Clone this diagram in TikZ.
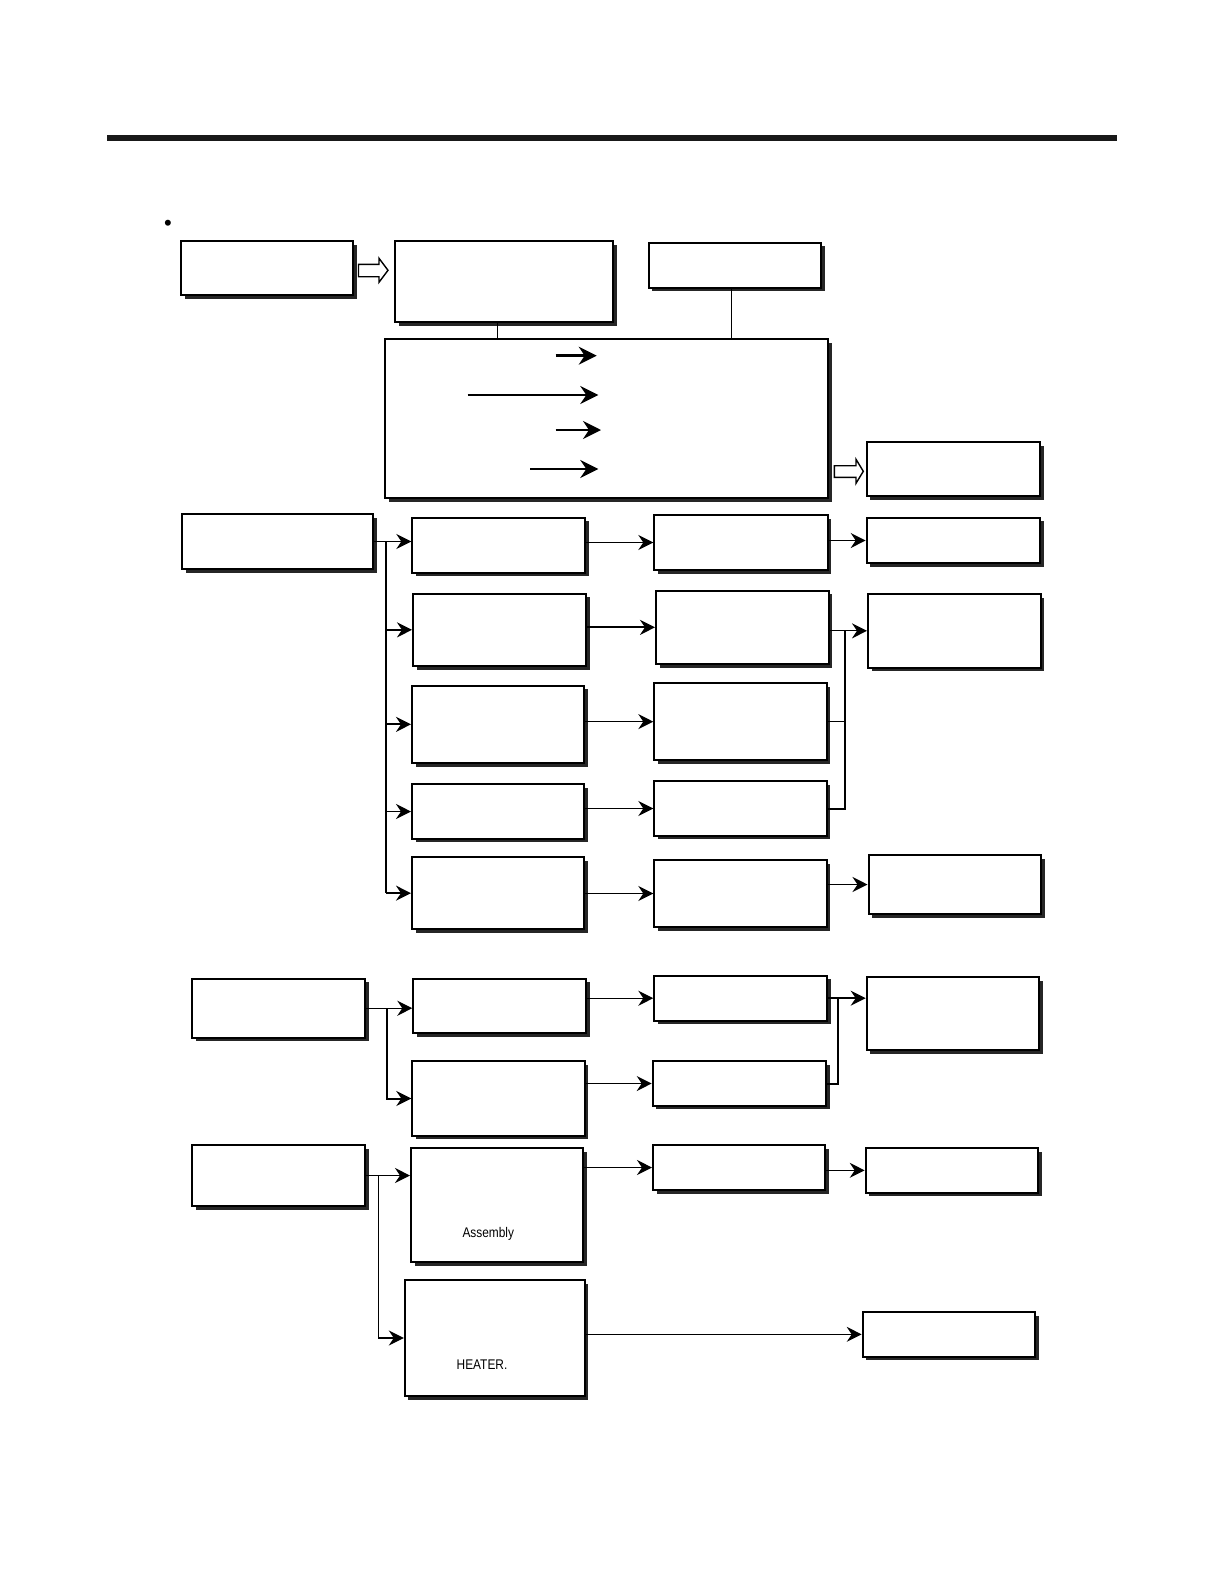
\documentclass[tikz,border=0pt]{standalone}
\usepackage{fontspec}
\setmainfont{Liberation Sans}
\usepackage{graphicx}
\usetikzlibrary{arrows.meta,shadows,calc}
\tikzset{
 boxst/.style={draw=black, line width=1pt, fill=white, inner sep=0pt,
   drop shadow={shadow xshift=1.8pt, shadow yshift=-1.8pt, fill=black!85, opacity=1}},
 tipst/.style={-{Stealth[length=7.5pt,width=7.5pt,inset=2.5pt]}},
 conn/.style={line width=0.6pt, tipst},
 connb/.style={line width=1pt, tipst},
 wire/.style={line width=0.6pt},
 wireb/.style={line width=1pt},
 hollow/.style={draw, line width=0.7pt, fill=white, line join=miter},
 lbl/.style={font=\fontsize{7}{8}\selectfont, inner sep=0pt},
 inarrow/.style={line width=1.3pt, -{Stealth[length=9pt,width=9pt,inset=3pt]}}
}
\newcommand\mybox[6]{\node[boxst, minimum width={(#4-#2)*0.5pt}, minimum height={(#5-#3)*0.5pt}] (#1) at ({(#2+#4)/2},{(#3+#5)/2}) {#6};}
\begin{document}
\begin{tikzpicture}[x=0.5pt,y=-0.5pt]
\useasboundingbox (0,0) rectangle (1224,1584);
% top rule
\fill[black!90] (107,135.5) rectangle (1117,140.5);
\node[font=\fontsize{11}{12}\selectfont, inner sep=0pt] (bul) at (168,225) {\textbullet};
% row 1
\mybox{A}{181}{241}{353}{295}{}
\mybox{B}{395}{241}{613}{322}{}
\mybox{C}{648.7}{242.7}{821}{287.7}{}
\mybox{D}{385}{339}{828.3}{498.3}{}
\mybox{E}{866.7}{442.3}{1040}{496}{}
% group 1
\mybox{F}{182.3}{514}{373.3}{569}{}
\mybox{G}{412.3}{517.7}{585}{572.7}{}
\mybox{H}{413}{593.7}{586}{666}{}
\mybox{I}{654.3}{515}{827.7}{570}{}
\mybox{J}{866.7}{517.7}{1040}{563.3}{}
\mybox{K}{656}{590.7}{828.7}{664}{}
\mybox{L}{868}{594}{1040.7}{667.7}{}
\mybox{M}{412}{685.7}{584.3}{763}{}
\mybox{N}{654.3}{683.3}{826.7}{760}{}
\mybox{O}{412}{784.3}{584.3}{838.7}{}
\mybox{P}{654.3}{781.3}{826.7}{835.7}{}
\mybox{Q}{412}{857}{584.3}{929.3}{}
\mybox{R}{654.3}{860}{826.7}{927}{}
\mybox{S}{868.5}{855}{1041}{914}{}
% group 2
\mybox{T}{192.3}{978.7}{365}{1037.7}{}
\mybox{U}{413.3}{978.7}{586}{1033.3}{}
\mybox{V}{412.3}{1061.3}{584.7}{1135.7}{}
\mybox{W}{654.3}{975.7}{827.3}{1020.7}{}
\mybox{X}{652.7}{1061.3}{826}{1105.7}{}
\mybox{Y}{866.7}{977.3}{1039.3}{1050}{}
% group 3
\mybox{Z}{192.3}{1145}{365}{1206}{}
\mybox{AA}{411}{1148}{583}{1262}{}
\mybox{AB}{653}{1145}{825.4}{1190}{}
\mybox{AC}{865.7}{1148}{1038.3}{1192.7}{}
\mybox{AD}{404.8}{1280}{584.7}{1396}{}
\mybox{AE}{862.7}{1312}{1035.3}{1356.7}{}
\node[lbl] (asm) at (488.3,1233.7) {\scalebox{0.85}[1]{Assembly}};
\node[lbl] (heat) at (482,1365) {\scalebox{0.85}[1]{HEATER.}};
% hollow arrows
\draw[hollow] (358.5,264.3) -- (379,264.3) -- (379,258.3) -- (388,270.3) -- (379,282.3) -- (379,276.7) -- (358.5,276.7) -- cycle;
\draw[hollow] (834.3,465.7) -- (856,465.7) -- (856,459.3) -- (863.3,471.3) -- (856,483.3) -- (856,477.3) -- (834.3,477.3) -- cycle;
% B, C to D
\coordinate (bs) at ([xshift=-3.4pt]B.south);
\coordinate (cs) at ([xshift=-1.6pt]C.south);
\draw[wire] (bs) -- (bs |- D.north);
\draw[wire] (cs) -- (cs |- D.north);
% arrows inside D
\coordinate (d1a) at (555.7,355.7); \coordinate (d1b) at (596.7,355.7);
\coordinate (d2a) at (467.7,395); \coordinate (d2b) at (598.3,395);
\coordinate (d3a) at (555.7,430); \coordinate (d3b) at (601,430);
\coordinate (d4a) at (530,469); \coordinate (d4b) at (598.3,469);
\draw[inarrow] (d1a) -- (d1b);
\draw[inarrow] (d2a) -- (d2b);
\draw[inarrow] (d3a) -- (d3b);
\draw[inarrow] (d4a) -- (d4b);
% group 1 connectors
\coordinate (j1) at (386,0);
\draw[conn] (F.east) -- (F.east -| G.west);
\draw[wire] (j1 |- F.east) -- (j1 |- Q.west);
\draw[connb] (j1 |- H.west) -- (H.west);
\draw[connb] (j1 |- M.west) -- (M.west);
\draw[conn] (j1 |- O.west) -- (O.west);
\draw[connb] (j1 |- Q.west) -- (Q.west);
\draw[conn] (I.west -| G.east) -- (I.west);
\draw[connb] (K.west -| H.east) -- (K.west);
\draw[conn] (N.west -| M.east) -- (N.west);
\draw[conn] (P.west -| O.east) -- (P.west);
\draw[conn] (R.west -| Q.east) -- (R.west);
\draw[conn] (J.west -| I.east) -- (J.west);
\draw[conn] (S.west -| R.east) -- (S.west);
\coordinate (j2) at (845,0);
\draw[conn] (L.west -| K.east) -- (L.west);
\draw[wire] (N.east) -- (N.east -| j2);
\draw[wireb] (P.east) -- (P.east -| j2) -- (j2 |- L.west);
% group 2 connectors
\coordinate (j3) at (387,0);
\draw[conn] (T.east) -- (T.east -| U.west);
\draw[wireb, tipst] (j3 |- T.east) -- (j3 |- V.west) -- (V.west);
\draw[conn] (W.west -| U.east) -- (W.west);
\draw[conn] (X.west -| V.east) -- (X.west);
\coordinate (j4) at (837.7,0);
\draw[connb] (W.east) -- (W.east -| Y.west);
\draw[wireb] (X.east) -- (X.east -| j4) -- (j4 |- W.east);
% group 3 connectors
\coordinate (j5) at (378.5,0);
\draw[conn] (Z.east) -- (Z.east -| AA.west);
\draw[conn] (j5 |- Z.east) -- (j5 |- AD.west) -- (AD.west);
\draw[conn] (AB.west -| AA.east) -- (AB.west);
\draw[conn] (AC.west -| AB.east) -- (AC.west);
\draw[conn] (AE.west -| AD.east) -- (AE.west);
\end{tikzpicture}
\end{document}
